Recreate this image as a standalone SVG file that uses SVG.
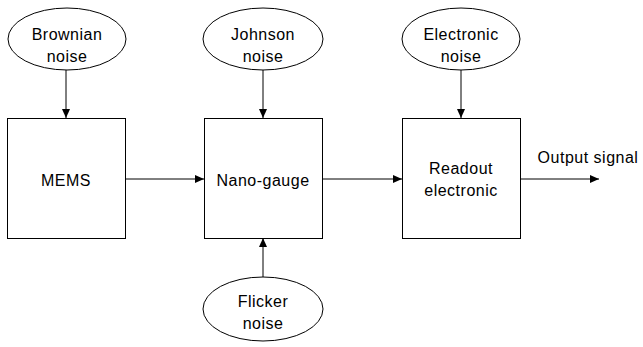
<svg xmlns="http://www.w3.org/2000/svg" width="643" height="347" viewBox="0 0 643 347">
<style>
.shape{fill:#fff;stroke:#000;stroke-width:1}
.t{font-family:"Liberation Sans",Arial,sans-serif;font-size:16px;letter-spacing:0.5px;text-anchor:middle;fill:#000}
.c{stroke:#000;stroke-width:1;fill:none;marker-end:url(#ah)}
</style>
<defs>
<marker id="ah" markerWidth="10" markerHeight="8" refX="9" refY="4" orient="auto" markerUnits="userSpaceOnUse">
<path d="M0,0 L9,4 L0,8 Z" fill="#000"/>
</marker>
</defs>
<rect width="643" height="347" fill="#fff"/>
<g id="connectors">
<line class="c" x1="66" y1="70" x2="66" y2="118"/>
<line class="c" x1="263" y1="70" x2="263" y2="118"/>
<line class="c" x1="461" y1="70" x2="461" y2="118"/>
<line class="c" x1="125" y1="179" x2="204" y2="179"/>
<line class="c" x1="322" y1="179" x2="402" y2="179"/>
<line class="c" x1="520" y1="179" x2="599" y2="179"/>
<line class="c" x1="263" y1="277" x2="263" y2="238"/>
</g>
<g id="brownian"><ellipse class="shape" cx="67" cy="39" rx="59" ry="31"/><text class="t" x="67" y="40">Brownian</text><text class="t" x="67" y="62">noise</text></g>
<g id="johnson"><ellipse class="shape" cx="263" cy="39" rx="60" ry="31"/><text class="t" x="263" y="40">Johnson</text><text class="t" x="263" y="62">noise</text></g>
<g id="electronic"><ellipse class="shape" cx="461" cy="39" rx="59" ry="31"/><text class="t" x="461" y="40">Electronic</text><text class="t" x="461" y="62">noise</text></g>
<g id="mems"><rect class="shape" x="7.5" y="118.5" width="118" height="120"/><text class="t" x="66" y="186">MEMS</text></g>
<g id="nanogauge"><rect class="shape" x="204.5" y="118.5" width="118" height="120"/><text class="t" x="263" y="186">Nano-gauge</text></g>
<g id="readout"><rect class="shape" x="402.5" y="118.5" width="118" height="120"/><text class="t" x="461" y="174">Readout</text><text class="t" x="461" y="196">electronic</text></g>
<g id="flicker"><ellipse class="shape" cx="263" cy="309" rx="60" ry="32"/><text class="t" x="263" y="307">Flicker</text><text class="t" x="263" y="329">noise</text></g>
<g id="output"><text class="t" x="588" y="163">Output signal</text></g>
</svg>
